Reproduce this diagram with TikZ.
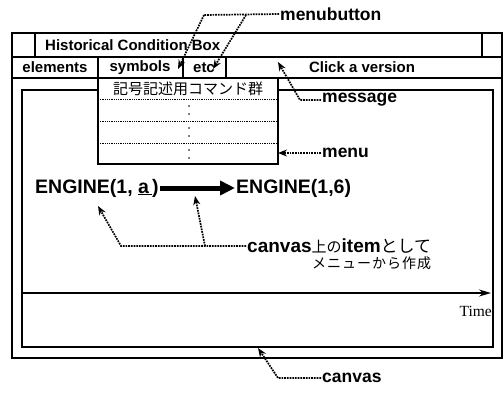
\documentclass[tikz,border=0pt]{standalone}
\usepackage{fontspec}
\setmainfont{Liberation Sans}
\newfontfamily\jpfont{Noto Sans CJK JP}
\newfontfamily\serifw{Liberation Serif}
\usetikzlibrary{positioning, arrows.meta}

\begin{document}
\begin{tikzpicture}[
  x=1pt, y=-1pt,
  win/.style={draw, line width=1.5pt},
  btn/.style={font=\bfseries\fontsize{15}{17}\selectfont, inner sep=1pt},
  callout/.style={font=\bfseries\fontsize{17.5}{19}\selectfont, anchor=west, inner sep=1pt},
  item/.style={font=\bfseries\fontsize{19.5}{21}\selectfont, anchor=west, inner sep=1pt},
  ptr/.style={densely dotted, line width=1.7pt, -{Stealth[length=9pt, width=7pt]}},
  lead/.style={densely dotted, line width=1.7pt},
  sep/.style={densely dotted, line width=0.8pt}
]
\useasboundingbox (0,0) rectangle (503,397);

% Window frame
\draw[win] (12,33) rectangle (502,358);
\draw[line width=2.2pt] (12,57) -- (502,57);
\draw[win] (12,78) -- (502,78);
\draw[win] (35,33) -- (35,57);
\draw[win] (482,33) -- (482,57);
\draw[win] (98,57) -- (98,78);
\draw[win] (183,57) -- (183,78);
\draw[win] (226,57) -- (226,78);

% Title and menu row
\node[btn, anchor=west] (title) at (44,45) {Historical Condition Box};
\node[btn] (elements) at (55,67.5) {elements};
\node[btn] (symbols) at (140,67.5) {symbols};
\node[btn] (etc) at (204,67.5) {etc};
\node[btn] (version) at (362,67.5) {Click a version};

% Canvas
\draw[win] (22,90) rectangle (493,347);

% Menu (drop down)
\draw[win, fill=white] (98,78) rectangle (278,164);
\node[font=\jpfont\fontsize{15}{17}\selectfont, inner sep=0pt] (menuhead) at (188,89) {記号記述用コマンド群};
\foreach \yy in {99,121,143}
  \draw[sep] (98,\yy) -- (278,\yy);
\foreach \yy in {99,121,143}
  \draw[line width=1.8pt, line cap=round, dash pattern=on 0pt off 8pt] (189,\yy+7) -- (189,\yy+17);

% Items on the canvas
\node[item] (engA) at (34,188) {ENGINE(1, \underline{a\,})};
\node[item] (engB) at (235,188) {ENGINE(1,6)};
\draw[line width=5pt, -{Triangle[length=15pt, width=14pt]}] (engA) -- (engB);

% Time axis
\draw[line width=1.6pt, -{Stealth[length=12pt, width=7pt]}] (22,293) -- (491,293);
\node[font=\serifw\fontsize{15.5}{17}\selectfont, anchor=east, inner sep=0pt] (time) at (492,311) {Time};

% Callouts
\node[callout] (menubtn) at (279,14) {menubutton};
\coordinate (mbA) at (204,15);
\coordinate (mbB) at (246,15);
\coordinate (tipSym) at (178,69);
\coordinate (tipEtc) at (213,69);
\draw[lead] (menubtn.west) -- (mbA);
\draw[ptr] (mbA) -- (tipSym);
\draw[ptr] (mbB) -- (tipEtc);

\node[callout] (message) at (321,100) {message};
\coordinate (msgA) at (300,100);
\coordinate (tipMsg) at (278,62);
\draw[ptr] (message.west) -- (msgA) -- (tipMsg);

\node[callout] (menu) at (321,153) {menu};
\draw[ptr] (menu.west) -- (278,153);

\node[font=\fontsize{19}{20}\selectfont, anchor=west, inner sep=1pt, align=right] (itemnote) at (246,254)
  {\textbf{canvas}{\jpfont\fontsize{15}{16}\selectfont 上の}\textbf{item}{\jpfont\fontsize{17}{18}\selectfont として}\\[-4pt]
   {\jpfont\fontsize{14}{16}\selectfont メ\kern1ptニ\kern1ptュ\kern1ptー\kern1ptか\kern1ptら\kern1pt作\kern1pt成}};
\coordinate (itA) at (121,246);
\coordinate (itB) at (205,246);
\coordinate (tipEngA) at (98,206);
\coordinate (tipArrow) at (195,196);
\draw[ptr] (itemnote.north west |- itA) -- (itA) -- (tipEngA);
\draw[ptr] (itB) -- (tipArrow);

\node[callout] (canvas) at (321,378) {canvas};
\coordinate (cvA) at (278,378);
\coordinate (tipCv) at (258,348);
\draw[ptr] (canvas.west) -- (cvA) -- (tipCv);

\end{tikzpicture}
\end{document}
